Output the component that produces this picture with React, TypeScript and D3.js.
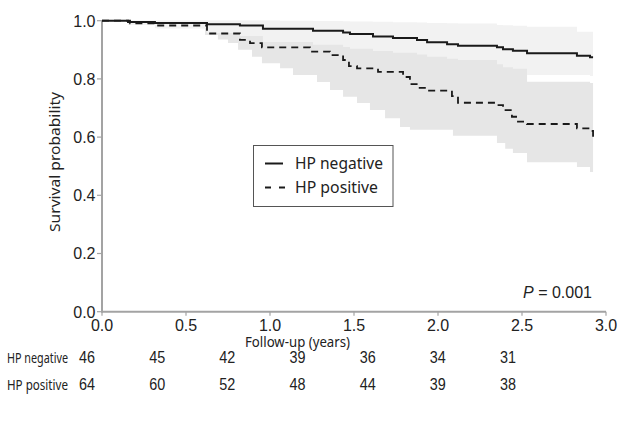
import React from "react";
import * as d3 from "d3";

// ---- data ----
const xTicks = [0, 0.5, 1.0, 1.5, 2.0, 2.5, 3.0];
const yTicks = [0, 0.2, 0.4, 0.6, 0.8, 1.0];

const timesNeg = [0, 0.155, 0.315, 0.625, 0.821, 0.958, 1.256, 1.435, 1.476, 1.613, 1.732, 1.875, 1.935, 2.054, 2.119, 2.351, 2.387, 2.446, 2.53, 2.827, 2.905, 2.923];
const survNeg = [1, 0.9955, 0.992, 0.9876, 0.9835, 0.972, 0.9656, 0.9595, 0.954, 0.9457, 0.9405, 0.9337, 0.9258, 0.919, 0.914, 0.9086, 0.9017, 0.897, 0.888, 0.8797, 0.874, 0.874];
const lowerNeg = [1, 0.985, 0.974, 0.958, 0.947, 0.927, 0.917, 0.91, 0.904, 0.896, 0.89, 0.884, 0.876, 0.869, 0.865, 0.85, 0.84, 0.835, 0.813, 0.813, 0.81, 0.81];
const upperNeg = [1, 1, 1, 1, 1, 1, 0.999, 0.998, 0.997, 0.996, 0.995, 0.994, 0.992, 0.991, 0.99, 0.985, 0.984, 0.983, 0.979, 0.962, 0.962, 0.962];

const timesPos = [0, 0.167, 0.327, 0.625, 0.821, 0.881, 0.952, 1.238, 1.357, 1.435, 1.47, 1.518, 1.643, 1.792, 1.833, 1.881, 1.935, 2.083, 2.119, 2.351, 2.387, 2.44, 2.476, 2.53, 2.827, 2.905, 2.923];
const survPos = [1, 0.991, 0.9835, 0.956, 0.934, 0.923, 0.908, 0.894, 0.882, 0.865, 0.844, 0.836, 0.824, 0.8065, 0.782, 0.769, 0.76, 0.741, 0.718, 0.71, 0.693, 0.67, 0.653, 0.645, 0.63, 0.621, 0.601];

const bandPosTimes = [0.167, 0.327, 0.613, 0.69, 0.75, 0.81, 0.893, 0.952, 1.06, 1.137, 1.28, 1.357, 1.435, 1.518, 1.595, 1.685, 1.774, 1.833, 2.089, 2.351, 2.4, 2.446, 2.53, 2.827, 2.905, 2.923];
const lowerPos = [0.99, 0.974, 0.951, 0.935, 0.923, 0.9, 0.876, 0.854, 0.837, 0.813, 0.789, 0.762, 0.739, 0.717, 0.693, 0.665, 0.635, 0.625, 0.605, 0.58, 0.56, 0.545, 0.514, 0.497, 0.48, 0.48];
const upperPos = [1, 1, 1, 1, 1, 1, 1, 1, 0.99, 0.99, 0.98, 0.975, 0.97, 0.96, 0.95, 0.94, 0.93, 0.925, 0.9, 0.87, 0.86, 0.84, 0.79, 0.79, 0.786, 0.786];

const riskTimes = [0, 0.5, 1.0, 1.5, 2.0, 2.5, 3.0];
const riskNeg = [46, 45, 42, 39, 36, 34, 31];
const riskPos = [64, 60, 52, 48, 44, 39, 38];

const seriesNames = ["HP negative", "HP positive"];
const pText = "0.001";

export default function App() {
  const W = 619, H = 426;
  const x = d3.scaleLinear().domain([0, 3]).range([102, 606]);
  const y = d3.scaleLinear().domain([0, 1]).range([311.7, 20.7]);
  const xr = d3.scaleLinear().domain([0, 3]).range([87, 508]);

  const line = d3.line<[number, number]>().x(d => x(d[0])).y(d => y(d[1])).curve(d3.curveStepAfter);
  const area = d3.area<[number, number, number]>()
    .x(d => x(d[0])).y0(d => y(d[1])).y1(d => y(d[2])).curve(d3.curveStepAfter);

  const negPts = timesNeg.map((t, i) => [t, survNeg[i]] as [number, number]);
  const posPts = timesPos.map((t, i) => [t, survPos[i]] as [number, number]);
  const negBand = timesNeg.map((t, i) => [t, lowerNeg[i], upperNeg[i]] as [number, number, number]);
  const posBand = bandPosTimes.map((t, i) => [t, lowerPos[i], upperPos[i]] as [number, number, number]);

  const axisColor = "#a3a3a3";
  const tickFont = "'Liberation Sans', Arial, sans-serif";
  const humFont = "'Noto Sans', 'Open Sans', sans-serif";

  return (
    <svg width={W} height={H} style={{ position: "absolute", left: 0, top: 0, background: "#fff" }}>
      <rect width={W} height={H} fill="#fff" />
      <path d={area(posBand) || ""} fill="#e6e6e6" />
      <path d={area(negBand) || ""} fill="#f2f2f2" />

      {/* axes */}
      <line x1={x(0)} x2={x(3)} y1={y(0)} y2={y(0)} stroke={axisColor} strokeWidth={2} />
      <line x1={x(0)} x2={x(0)} y1={y(0) + 1} y2={y(1)} stroke={axisColor} strokeWidth={2} />
      {xTicks.map(t => (
        <g key={"xt" + t}>
          <line x1={x(t)} x2={x(t)} y1={y(0)} y2={y(0) + 4} stroke={axisColor} strokeWidth={1.2} />
          <text x={x(t)} y={331} textAnchor="middle" fontFamily={tickFont} fontSize={16} fill="#222">{t.toFixed(1)}</text>
        </g>
      ))}
      {yTicks.map(t => (
        <g key={"yt" + t}>
          <line x1={x(0) - 5} x2={x(0)} y1={y(t)} y2={y(t)} stroke={axisColor} strokeWidth={1.2} />
          <text x={95.5} y={y(t) + 5.8} textAnchor="end" fontFamily={tickFont} fontSize={16} fill="#222">{t.toFixed(1)}</text>
        </g>
      ))}

      {/* curves */}
      <path d={line(posPts) || ""} fill="none" stroke="#1a1a1a" strokeWidth={1.8} strokeDasharray="7,5" />
      <path d={line(negPts) || ""} fill="none" stroke="#1a1a1a" strokeWidth={2} />

      {/* axis titles */}
      <text transform="translate(60,162) rotate(-90)" textAnchor="middle" fontFamily={humFont} fontSize={15}
        textLength={140} lengthAdjust="spacingAndGlyphs" fill="#222">Survival probability</text>
      <text x={297.5} y={346.5} textAnchor="middle" fontFamily={humFont} fontSize={14.5}
        textLength={105} lengthAdjust="spacingAndGlyphs" fill="#222">Follow-up (years)</text>

      {/* legend */}
      <rect x={253.5} y={145.5} width={139.5} height={61} fill="#fff" stroke="#555" strokeWidth={1} />
      <line x1={265} x2={283} y1={163.5} y2={163.5} stroke="#1a1a1a" strokeWidth={2} />
      <line x1={265} x2={287} y1={187.5} y2={187.5} stroke="#1a1a1a" strokeWidth={2} strokeDasharray="6,8" />
      <text x={295} y={169} fontFamily={humFont} fontSize={16} textLength={88} lengthAdjust="spacingAndGlyphs" fill="#222">{seriesNames[0]}</text>
      <text x={295} y={193} fontFamily={humFont} fontSize={16} textLength={83} lengthAdjust="spacingAndGlyphs" fill="#222">{seriesNames[1]}</text>

      {/* p value */}
      <text x={592} y={298} textAnchor="end" fontFamily={tickFont} fontSize={16} fill="#222">
        <tspan fontStyle="italic">P</tspan> = {pText}
      </text>

      {/* risk table */}
      <text x={7} y={363} fontFamily={humFont} fontSize={13.5} textLength={61} lengthAdjust="spacingAndGlyphs" fill="#222">{seriesNames[0]}</text>
      <text x={7} y={390} fontFamily={humFont} fontSize={13.5} textLength={61} lengthAdjust="spacingAndGlyphs" fill="#222">{seriesNames[1]}</text>
      {riskTimes.map((t, i) => (
        <g key={"r" + t}>
          <text x={xr(t)} y={363} textAnchor="middle" fontFamily={tickFont} fontSize={17} textLength={16} lengthAdjust="spacingAndGlyphs" fill="#222">{riskNeg[i]}</text>
          <text x={xr(t)} y={390} textAnchor="middle" fontFamily={tickFont} fontSize={17} textLength={16} lengthAdjust="spacingAndGlyphs" fill="#222">{riskPos[i]}</text>
        </g>
      ))}
    </svg>
  );
}
